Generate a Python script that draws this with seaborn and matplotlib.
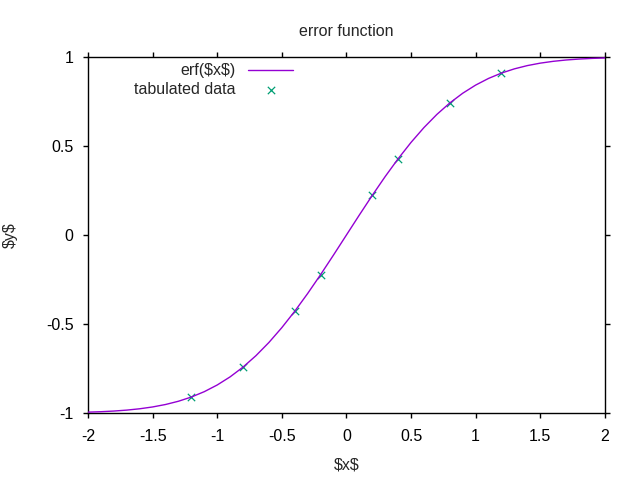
import pandas as pd
import numpy as np
import matplotlib.pyplot as plt
import seaborn as sns

sns.set_theme(style='white')
plt.rcParams['font.family'] = ['Liberation Sans', 'DejaVu Sans']
plt.rcParams['font.size'] = 11.5

# curve values (step 0.1)
x_curve = [-2.0, -1.9, -1.8, -1.7, -1.6, -1.5, -1.4, -1.3, -1.2, -1.1, -1.0,
           -0.9, -0.8, -0.7, -0.6, -0.5, -0.4, -0.3, -0.2, -0.1, 0.0,
           0.1, 0.2, 0.3, 0.4, 0.5, 0.6, 0.7, 0.8, 0.9, 1.0,
           1.1, 1.2, 1.3, 1.4, 1.5, 1.6, 1.7, 1.8, 1.9, 2.0]
y_curve = [-0.9953, -0.9928, -0.9891, -0.9838, -0.9763, -0.9661, -0.9523, -0.9340, -0.9103, -0.8802, -0.8427,
           -0.7969, -0.7421, -0.6778, -0.6039, -0.5205, -0.4284, -0.3286, -0.2227, -0.1125, 0.0,
           0.1125, 0.2227, 0.3286, 0.4284, 0.5205, 0.6039, 0.6778, 0.7421, 0.7969, 0.8427,
           0.8802, 0.9103, 0.9340, 0.9523, 0.9661, 0.9763, 0.9838, 0.9891, 0.9928, 0.9953]

# tabulated points
x_tab = [-1.2, -0.8, -0.4, -0.2, 0.2, 0.4, 0.8, 1.2]
y_tab = [-0.9103, -0.7421, -0.4284, -0.2227, 0.2227, 0.4284, 0.7421, 0.9103]

xticks = [-2, -1.5, -1, -0.5, 0, 0.5, 1, 1.5, 2]
yticks = [-1, -0.5, 0, 0.5, 1]

fig = plt.figure(figsize=(6.4, 4.8), dpi=100)
ax = fig.add_axes([0.1375, 0.1396, 0.8075, 0.7414])

sns.scatterplot(x=x_tab, y=y_tab, ax=ax, marker='x', color='#009E73', s=28,
                linewidth=0.9, label=r'tabulated data', zorder=2)
sns.lineplot(x=x_curve, y=y_curve, ax=ax, color='#9400D3', linewidth=1,
             label=r'erf(\$x\$)', zorder=3)

ax.set_xlim(-2, 2)
ax.set_ylim(-1, 1)
ax.set_xticks(xticks)
ax.set_xticklabels([f'{t:g}' for t in xticks])
ax.set_yticks(yticks)
ax.set_yticklabels([f'{t:g}' for t in yticks])
ax.tick_params(direction='out', length=3.5, width=1, top=True, right=True,
               bottom=True, left=True, labelsize=11.5, colors='black')
ax.tick_params(axis='x', pad=8)
ax.tick_params(axis='y', pad=7)
for s in ax.spines.values():
    s.set_color('black')
    s.set_linewidth(1)

ax.set_xlabel(r'\$x\$', fontsize=11.5, labelpad=10)
ax.set_ylabel(r'\$y\$', fontsize=11.5, labelpad=20)
ax.set_title('error function', fontsize=11.5, pad=15)

h, l = ax.get_legend_handles_labels()
ax.legend(h[::-1], l[::-1], loc='upper right', bbox_to_anchor=(0.397, 0.983),
          frameon=False, markerfirst=False, fontsize=11.5, handlelength=2.8,
          handletextpad=0.8, labelspacing=0.25, borderaxespad=0, borderpad=0)

fig.savefig('out.png', dpi=100)
